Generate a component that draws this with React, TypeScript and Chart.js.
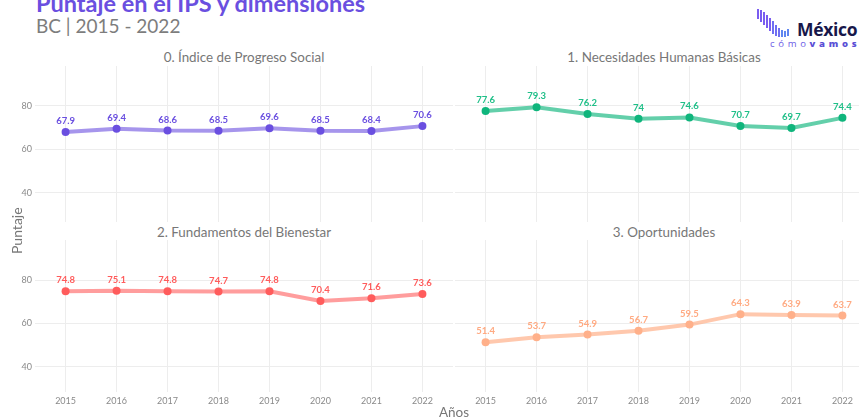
import React, { useEffect, useRef } from "react";
import { Chart, registerables } from "chart.js";
Chart.register(...registerables);

const years = [2015, 2016, 2017, 2018, 2019, 2020, 2021, 2022];
const ipsValues = [67.9, 69.4, 68.6, 68.5, 69.6, 68.5, 68.4, 70.6];
const nhbValues = [77.6, 79.3, 76.2, 74, 74.6, 70.7, 69.7, 74.4];
const fbValues = [74.8, 75.1, 74.8, 74.7, 74.8, 70.4, 71.6, 73.6];
const opValues = [51.4, 53.7, 54.9, 56.7, 59.5, 64.3, 63.9, 63.7];
const yTicks = [40, 60, 80];
const panelTitles = [
  "0. Índice de Progreso Social",
  "1. Necesidades Humanas Básicas",
  "2. Fundamentos del Bienestar",
  "3. Oportunidades",
];

const FONT = "Lato, 'Open Sans', sans-serif";

type PanelProps = {
  values: number[];
  point: string;
  line: string;
  label: string;
  showX: boolean;
  showY: boolean;
  left: number;
  top: number;
  width: number;
  height: number;
  yMin: number;
  yMax: number;
};

function Panel(p: PanelProps) {
  const ref = useRef<HTMLCanvasElement | null>(null);
  useEffect(() => {
    if (!ref.current) return;
    const values = p.values;
    const labelPlugin = {
      id: "valueLabels",
      afterDatasetsDraw(chart: any) {
        const ctx = chart.ctx;
        const meta = chart.getDatasetMeta(0);
        ctx.save();
        ctx.font = `bold 9.5px ${FONT}`;
        ctx.fillStyle = p.label;
        ctx.textAlign = "center";
        ctx.textBaseline = "middle";
        meta.data.forEach((pt: any, i: number) => {
          ctx.fillText(String(values[i]), pt.x, pt.y - 11);
        });
        ctx.restore();
      },
    };
    const chart = new Chart(ref.current, {
      type: "line",
      data: {
        datasets: [
          {
            data: years.map((x, i) => ({ x, y: values[i] })),
            borderColor: p.line,
            borderWidth: 4,
            pointRadius: 4,
            pointBackgroundColor: p.point,
            pointBorderWidth: 0,
            tension: 0,
            clip: false,
          },
        ],
      },
      options: {
        animation: false,
        responsive: false,
        maintainAspectRatio: false,
        layout: { padding: 0, autoPadding: false },
        plugins: {
          legend: { display: false },
          tooltip: { enabled: false },
        },
        scales: {
          x: {
            type: "linear",
            min: 2014.4,
            max: 2022.6,
            afterBuildTicks: (s: any) => {
              s.ticks = years.map((v) => ({ value: v }));
            },
            ticks: {
              display: p.showX,
              font: { size: 9, family: FONT },
              color: "#8a8a8a",
              padding: 4,
              maxRotation: 0,
              autoSkip: false,
              callback: (v: any) => String(v),
            },
            grid: { color: "#ededed", drawTicks: false, lineWidth: 1 },
            border: { display: false },
            afterFit: (s: any) => {
              s.height = p.showX ? 18 : 0;
              s.paddingLeft = 0;
              s.paddingRight = 0;
            },
          },
          y: {
            min: p.yMin,
            max: p.yMax,
            afterBuildTicks: (s: any) => {
              s.ticks = yTicks.map((v) => ({ value: v }));
            },
            ticks: {
              display: p.showY,
              font: { size: 9, family: FONT },
              color: "#8a8a8a",
              padding: 3,
            },
            grid: { color: "#ededed", drawTicks: false, lineWidth: 1 },
            border: { display: false },
            afterFit: (s: any) => {
              s.width = p.showY ? 35 : 0;
              s.paddingTop = 0;
              s.paddingBottom = 0;
            },
          },
        },
      } as any,
      plugins: [labelPlugin],
    });
    return () => chart.destroy();
  }, []);
  return (
    <canvas
      ref={ref}
      width={p.width}
      height={p.height}
      style={{ position: "absolute", left: p.left, top: p.top, width: p.width, height: p.height }}
    />
  );
}

const textBase: React.CSSProperties = {
  position: "absolute",
  whiteSpace: "nowrap",
  fontFamily: FONT,
  lineHeight: 1,
};

function Logo() {
  const bars = [
    [0, 9, 19], [3, 10, 22], [6, 12, 25], [9, 15, 28], [12, 18, 31],
    [15, 21, 34], [18, 25, 36], [21, 28, 37], [24, 30, 37], [27, 31, 37], [30, 29, 36],
  ];
  return (
    <div style={{ position: "absolute", left: 757, top: 0, width: 102, height: 52 }}>
      {bars.map((b, i) => (
        <div
          key={i}
          style={{
            position: "absolute",
            left: b[0],
            top: b[1],
            width: 2,
            height: b[2] - b[1],
            background: i < 5 ? "#7a5cf0" : i < 8 ? "#6f6ff2" : "#5f86f0",
          }}
        />
      ))}
      <div style={{ ...textBase, left: 40, top: 21, fontSize: 17.5, fontWeight: 700, color: "#17174a", fontFamily: "'Open Sans', sans-serif", letterSpacing: -0.3 }}>
        México
      </div>
      <div style={{ ...textBase, left: 13, top: 39, fontSize: 9.5, color: "#6a5ce6", letterSpacing: 3.7, fontFamily: "'Open Sans', sans-serif" }}>
        cómo<span style={{ fontWeight: 800, color: "#5a4fd6" }}>vamos</span>
      </div>
    </div>
  );
}

export default function App() {
  return (
    <div style={{ position: "fixed", left: 0, top: 0, width: 859, height: 419, overflow: "hidden", background: "#fff" }}>
      <div style={{ ...textBase, left: 36, top: -8, fontSize: 23.5, fontWeight: 700, color: "#6a4fe0" }}>
        Puntaje en el IPS y dimensiones
      </div>
      <div style={{ ...textBase, left: 36, top: 16, fontSize: 19, color: "#7d7d7d" }}>BC | 2015 - 2022</div>
      <Logo />
      <div style={{ ...textBase, left: 35, width: 418, top: 51, textAlign: "center", fontSize: 13.4, color: "#777" }}>{panelTitles[0]}</div>
      <div style={{ ...textBase, left: 455, width: 418, top: 51, textAlign: "center", fontSize: 13.4, color: "#777" }}>{panelTitles[1]}</div>
      <div style={{ ...textBase, left: 35, width: 418, top: 226, textAlign: "center", fontSize: 13.4, color: "#777" }}>{panelTitles[2]}</div>
      <div style={{ ...textBase, left: 455, width: 418, top: 226, textAlign: "center", fontSize: 13.4, color: "#777" }}>{panelTitles[3]}</div>
      <Panel values={ipsValues} point="#6a4fe0" line="rgba(106,79,224,0.6)" label="#6a4fe0" showX={false} showY={true} left={0} top={66} width={453} height={156} yMin={26.5} yMax={98.25} />
      <Panel values={nhbValues} point="#0fb57c" line="rgba(15,181,124,0.65)" label="#1fbf88" showX={false} showY={false} left={455} top={66} width={418} height={156} yMin={26.5} yMax={98.25} />
      <Panel values={fbValues} point="#ff5c5c" line="rgba(255,92,92,0.6)" label="#ff5c5c" showX={true} showY={true} left={0} top={240} width={453} height={170} yMin={28.5} yMax={98.4} />
      <Panel values={opValues} point="#ffb08a" line="rgba(255,176,138,0.7)" label="#ffaa82" showX={true} showY={false} left={455} top={240} width={418} height={170} yMin={28.5} yMax={98.4} />
      <div style={{ ...textBase, left: 10, top: 254, fontSize: 14, color: "#777", transform: "rotate(-90deg)", transformOrigin: "left top" }}>
        Puntaje
      </div>
      <div style={{ ...textBase, left: 454, top: 406, fontSize: 13.5, color: "#777", transform: "translateX(-50%)" }}>Años</div>
    </div>
  );
}
